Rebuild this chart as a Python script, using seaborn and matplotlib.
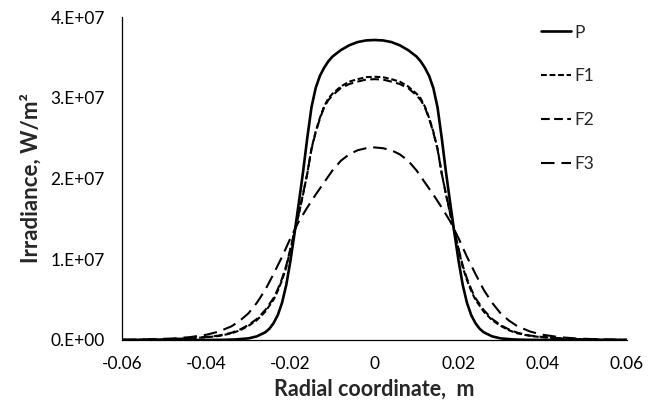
import matplotlib
matplotlib.use("Agg")
import matplotlib.pyplot as plt
import seaborn as sns
import pandas as pd
import numpy as np

# ---- data (right half, mirrored to the left) ----
p_x = [0.0, 0.002, 0.004, 0.006, 0.008, 0.010, 0.011, 0.012, 0.013, 0.014, 0.015,
       0.016, 0.017, 0.018, 0.019, 0.020, 0.021, 0.022, 0.023, 0.024, 0.025, 0.026,
       0.028, 0.030, 0.033, 0.036, 0.040, 0.060]
p_y = [3.715e7, 3.71e7, 3.69e7, 3.65e7, 3.59e7, 3.51e7, 3.45e7, 3.37e7, 3.27e7, 3.12e7, 2.88e7,
       2.50e7, 2.08e7, 1.70e7, 1.33e7, 9.8e6, 6.8e6, 4.6e6, 3.1e6, 2.1e6, 1.4e6, 9.5e5,
       4.5e5, 2.0e5, 7.0e4, 2.0e4, 5.0e3, 0.0]

f1_x = [0.0, 0.002, 0.004, 0.006, 0.008, 0.010, 0.011, 0.012, 0.013, 0.014, 0.015,
        0.016, 0.017, 0.018, 0.019, 0.020, 0.021, 0.022, 0.023, 0.024, 0.026, 0.028,
        0.030, 0.032, 0.034, 0.037, 0.040, 0.045, 0.050, 0.055, 0.060]
f1_y = [3.26e7, 3.255e7, 3.23e7, 3.20e7, 3.14e7, 3.05e7, 2.99e7, 2.89e7, 2.75e7, 2.58e7, 2.37e7,
        2.06e7, 1.80e7, 1.56e7, 1.34e7, 1.12e7, 9.0e6, 7.4e6, 6.1e6, 5.0e6, 3.5e6, 2.45e6,
        1.75e6, 1.2e6, 8.3e5, 5.0e5, 3.4e5, 1.7e5, 8.0e4, 3.0e4, 1.0e4]

f2_x = [0.0, 0.002, 0.004, 0.006, 0.008, 0.010, 0.011, 0.012, 0.013, 0.014, 0.015,
        0.016, 0.017, 0.018, 0.019, 0.020, 0.021, 0.022, 0.023, 0.024, 0.026, 0.028,
        0.030, 0.032, 0.034, 0.037, 0.040, 0.045, 0.050, 0.055, 0.060]
f2_y = [3.23e7, 3.225e7, 3.20e7, 3.17e7, 3.12e7, 3.03e7, 2.97e7, 2.88e7, 2.74e7, 2.57e7, 2.36e7,
        2.06e7, 1.81e7, 1.57e7, 1.35e7, 1.13e7, 9.2e6, 7.6e6, 6.3e6, 5.2e6, 3.7e6, 2.6e6,
        1.85e6, 1.3e6, 9.0e5, 5.5e5, 3.7e5, 1.9e5, 9.0e4, 3.5e4, 1.5e4]

f3_x = [0.0, 0.002, 0.004, 0.006, 0.008, 0.010, 0.012, 0.014, 0.016, 0.018, 0.020,
        0.022, 0.024, 0.026, 0.028, 0.030, 0.032, 0.034, 0.037, 0.040, 0.044, 0.048,
        0.052, 0.056, 0.060]
f3_y = [2.385e7, 2.375e7, 2.35e7, 2.30e7, 2.22e7, 2.10e7, 1.95e7, 1.80e7, 1.64e7, 1.47e7, 1.26e7,
        1.03e7, 8.2e6, 6.2e6, 4.6e6, 3.3e6, 2.4e6, 1.7e6, 1.05e6, 6.5e5, 3.5e5, 1.9e5,
        1.1e5, 6.0e4, 3.0e4]

series_names = ["P", "F1", "F2", "F3"]
x_ticks = [-0.06, -0.04, -0.02, 0.0, 0.02, 0.04, 0.06]
x_tick_labels = ["-0.06", "-0.04", "-0.02", "0", "0.02", "0.04", "0.06"]
y_ticks = [0, 1e7, 2e7, 3e7, 4e7]
y_tick_labels = ["0.E+00", "1.E+07", "2.E+07", "3.E+07", "4.E+07"]


def mirror(xs, ys):
    xs = np.asarray(xs)
    ys = np.asarray(ys)
    xx = np.concatenate([-xs[::-1], xs[1:]])
    yy = np.concatenate([ys[::-1], ys[1:]])
    return xx, yy


frames = []
for name, xs, ys in zip(series_names, [p_x, f1_x, f2_x, f3_x], [p_y, f1_y, f2_y, f3_y]):
    xx, yy = mirror(xs, ys)
    frames.append(pd.DataFrame({"x": xx, "y": yy, "series": name}))
df = pd.concat(frames, ignore_index=True)

sns.set_style("white")
plt.rcParams["font.family"] = ["Lato", "DejaVu Sans"]
plt.rcParams["axes.unicode_minus"] = False

fig = plt.figure(figsize=(6.53, 4.05), dpi=100)
ax = fig.add_axes([122.3 / 653, 1 - 340 / 405, 504.4 / 653, 323 / 405])

styles = {
    "P": dict(lw=1.9, dashes=None),
    "F1": dict(lw=1.5, dashes=(2.8, 1.3)),
    "F2": dict(lw=1.5, dashes=(4.2, 2.1)),
    "F3": dict(lw=1.5, dashes=(6.5, 3.3)),
}
for name in series_names:
    sub = df[df["series"] == name]
    st = styles[name]
    sns.lineplot(data=sub, x="x", y="y", ax=ax, label=name, sort=True,
                 estimator=None, color="black", linewidth=st["lw"])
    if st["dashes"] is not None:
        ax.lines[-1].set_dashes(st["dashes"])

ax.set_xlim(-0.06, 0.06)
ax.set_ylim(0, 4e7)
ax.set_xticks(x_ticks)
ax.set_xticklabels(x_tick_labels)
ax.set_yticks(y_ticks)
ax.set_yticklabels(y_tick_labels)

for s in ["top", "right"]:
    ax.spines[s].set_visible(False)
for s in ["left", "bottom"]:
    ax.spines[s].set_color("black")
    ax.spines[s].set_linewidth(0.9)

ax.tick_params(axis="both", which="major", direction="out", length=4.5, width=0.9,
               colors="black", labelsize=12.5)
ax.tick_params(axis="x", pad=7)
ax.tick_params(axis="y", pad=8)

ax.set_xlabel("Radial coordinate,  m", fontsize=15.5, fontweight="bold", labelpad=5)
ax.set_ylabel("Irradiance, W/m²", fontsize=16, fontweight="bold", labelpad=6)

leg = ax.legend(loc="upper left", bbox_to_anchor=(0.80, 1.025), frameon=False,
                fontsize=12.5, handlelength=1.7, handletextpad=0.2,
                labelspacing=1.6)
for h in leg.get_lines():
    h.set_color("black")

fig.savefig("out.png", dpi=100, facecolor="white")
